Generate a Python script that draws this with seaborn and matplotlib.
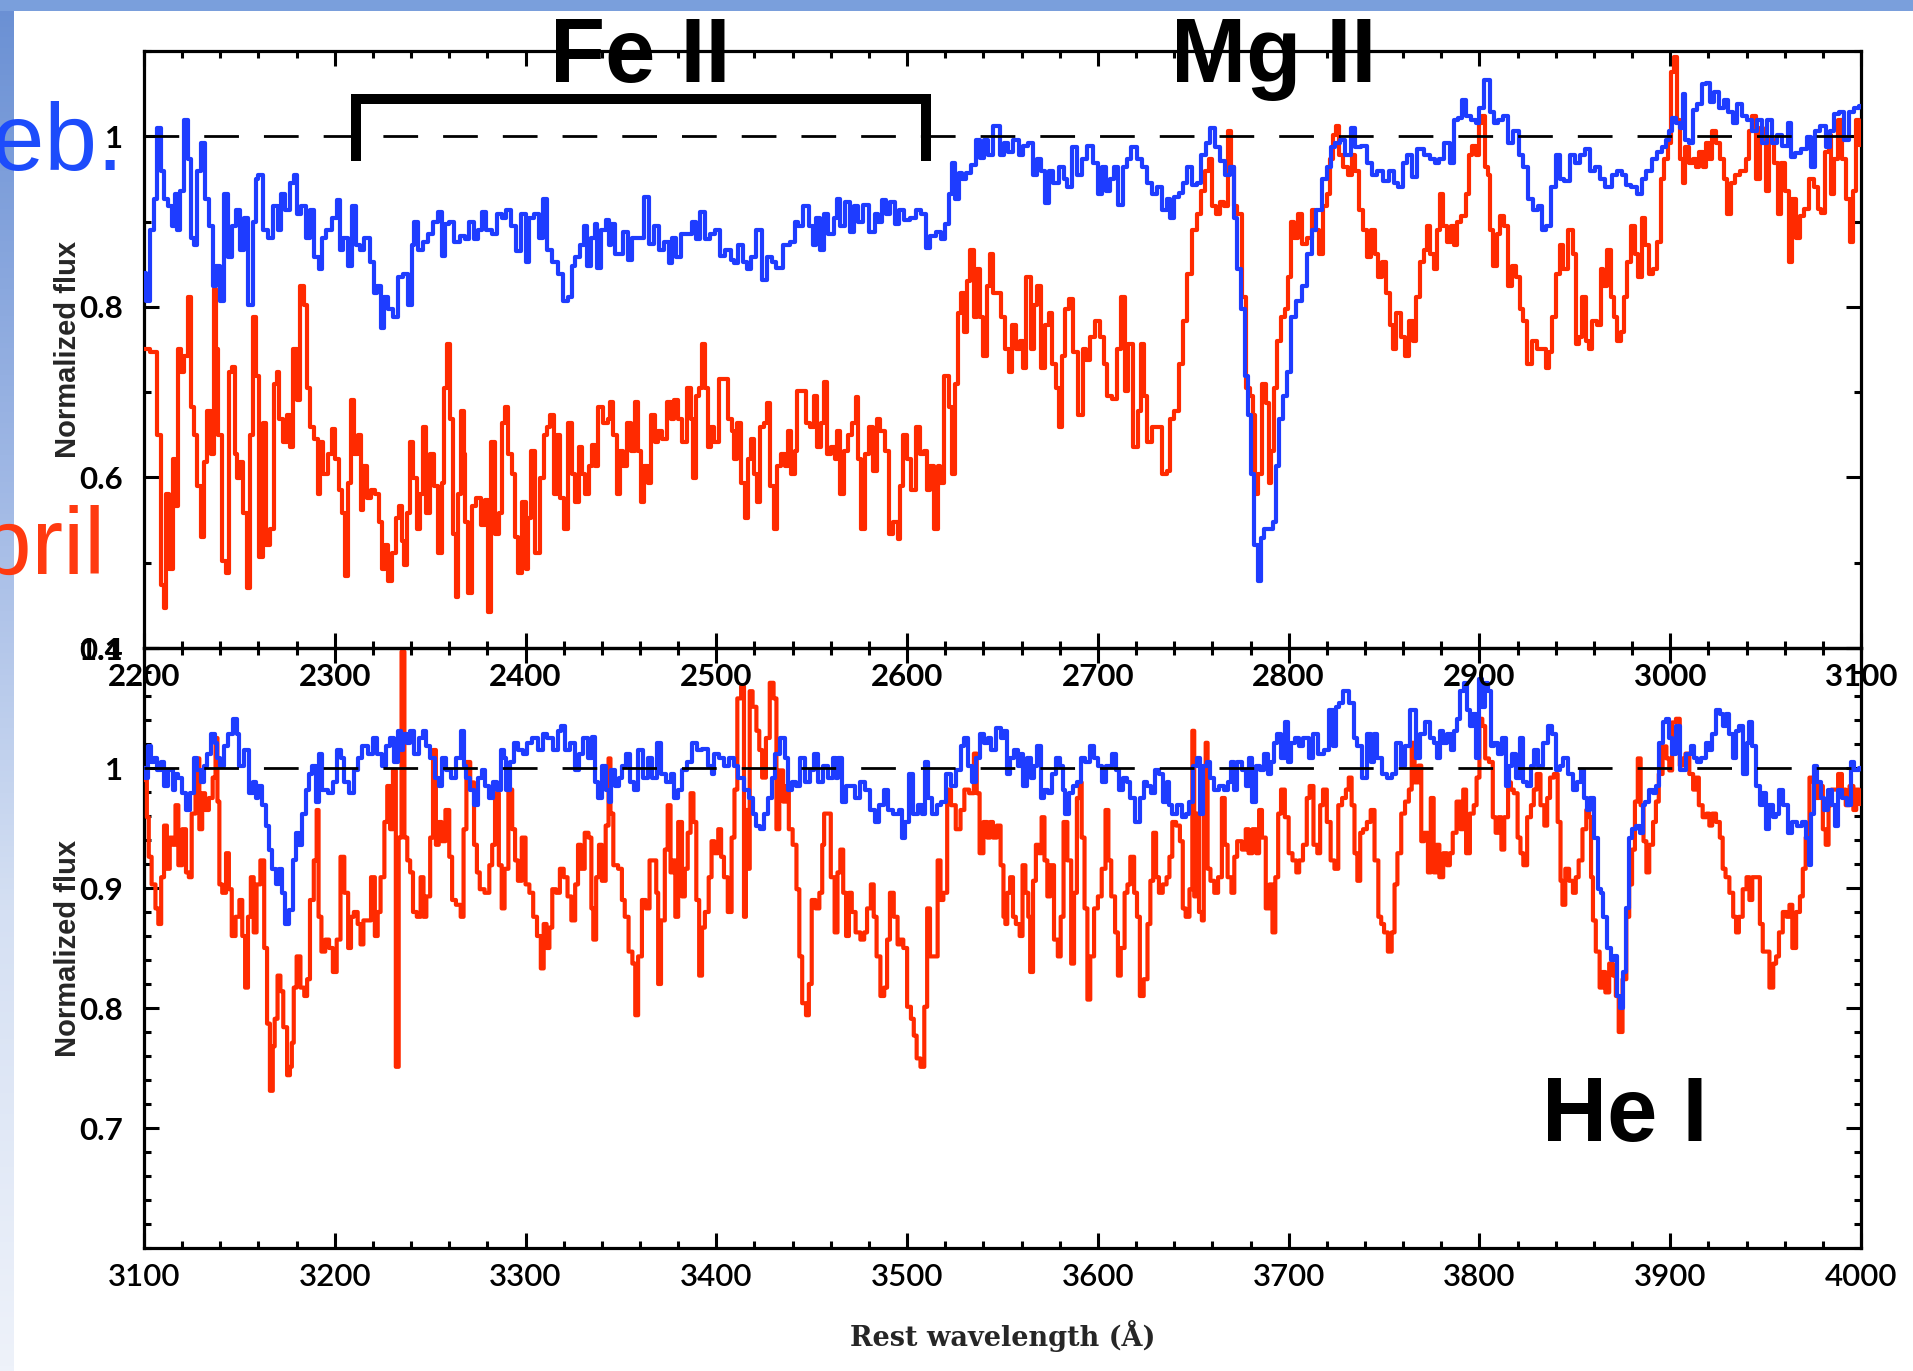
import numpy as np
import pandas as pd
import matplotlib
matplotlib.use("Agg")
import matplotlib.pyplot as plt
import seaborn as sns
from matplotlib.patches import Rectangle
from matplotlib.colors import LinearSegmentedColormap
from matplotlib.ticker import MultipleLocator

# ---------------- data (rest wavelength [A], normalized flux) ----------------
feb_uv = [(2200,0.84),(2202,0.807),(2204,0.890),(2206,0.927),(2208,1.010),(2210,0.959),(2211,0.927),(2214,0.918),(2215,0.895),(2217,0.932),(2218,0.890),(2220,0.936),(2222,1.019),(2224,0.973),(2225,0.881),(2227,0.872),(2229,0.959),(2231,0.992),(2233,0.927),(2235,0.895),(2237,0.825),(2239,0.848),(2241,0.807),(2243,0.932),(2245,0.858),(2247,0.895),(2249,0.913),(2252,0.867),(2253,0.904),(2256,0.802),(2258,0.899),(2259,0.950),(2261,0.955),(2264,0.890),(2266,0.881),(2269,0.918),(2271,0.890),(2273,0.932),(2275,0.913),(2278,0.945),(2279,0.955),(2281,0.909),(2284,0.918),(2286,0.881),(2288,0.913),(2290,0.858),(2293,0.844),(2294,0.881),(2297,0.890),(2300,0.904),(2302,0.925),(2303,0.867),(2306,0.881),(2308,0.848),(2310,0.918),(2312,0.872),(2314,0.867),(2317,0.881),(2320,0.853),(2321,0.816),(2323,0.825),(2325,0.775),(2327,0.812),(2329,0.798),(2332,0.788),(2334,0.835),(2337,0.839),(2340,0.802),(2341,0.872),(2342,0.899),(2345,0.867),(2348,0.876),(2350,0.885),(2353,0.899),(2355,0.911),(2357,0.860),(2359,0.897),(2361,0.899),(2364,0.876),(2367,0.883),(2369,0.879),(2372,0.899),(2374,0.879),(2376,0.890),(2378,0.911),(2381,0.890),(2384,0.885),(2386,0.909),(2389,0.904),(2391,0.913),(2394,0.895),(2396,0.865),(2399,0.909),(2401,0.853),(2403,0.904),(2406,0.909),(2408,0.881),(2410,0.927),(2412,0.867),(2416,0.853),(2418,0.839),(2421,0.807),
          (2424,0.812),(2425,0.848),(2427,0.858),(2430,0.872),(2431,0.895),(2433,0.848),(2436,0.881),(2437,0.897),(2438,0.846),(2441,0.890),(2443,0.902),(2444,0.872),(2446,0.897),(2448,0.862),(2450,0.862),(2452,0.888),(2455,0.855),(2457,0.881),(2461,0.881),(2463,0.929),(2466,0.874),(2469,0.895),(2471,0.867),(2474,0.876),(2476,0.851),(2478,0.881),(2480,0.858),(2483,0.885),(2486,0.885),(2489,0.899),(2490,0.879),(2493,0.911),(2495,0.879),(2498,0.885),(2501,0.890),(2503,0.860),(2506,0.867),(2509,0.855),(2510,0.851),(2513,0.872),(2515,0.853),(2517,0.844),(2519,0.858),(2523,0.890),(2525,0.832),(2528,0.858),(2530,0.853),(2533,0.846),(2537,0.872),(2540,0.876),(2542,0.899),(2544,0.895),(2547,0.918),(2550,0.895),(2551,0.872),(2553,0.904),(2556,0.867),(2557,0.909),(2560,0.885),(2563,0.904),(2564,0.927),(2566,0.895),(2569,0.923),(2571,0.888),(2573,0.918),(2576,0.899),(2578,0.920),(2582,0.888),(2584,0.909),(2586,0.899),(2588,0.925),(2590,0.909),(2592,0.923),(2595,0.897),(2597,0.913),(2600,0.902),(2603,0.904),(2606,0.913),(2609,0.909),(2611,0.869),(2613,0.883),(2617,0.888),(2619,0.879),(2621,0.897),(2623,0.932),(2624,0.969),(2626,0.927),(2628,0.957),(2630,0.950),(2632,0.957),(2635,0.966),(2637,0.996),(2639,0.974),(2642,0.996),(2643,0.978),(2647,1.012),
          (2650,0.978),(2652,0.992),(2654,0.982),(2657,0.996),(2660,0.978),(2662,0.989),(2665,0.992),(2667,0.955),(2669,0.973),(2671,0.959),(2674,0.922),(2675,0.959),(2678,0.945),(2681,0.964),(2683,0.950),(2685,0.941),(2688,0.987),(2690,0.955),(2693,0.973),(2696,0.989),(2699,0.969),(2701,0.932),(2703,0.964),(2705,0.936),(2708,0.950),(2709,0.964),(2712,0.920),(2714,0.964),(2716,0.973),(2719,0.987),(2722,0.973),(2724,0.964),(2727,0.945),(2730,0.932),(2732,0.941),(2735,0.913),(2737,0.927),(2739,0.904),(2741,0.929),(2744,0.934),(2745,0.945),(2748,0.964),(2751,0.943),(2753,0.945),(2755,0.978),(2758,0.992),(2760,1.010),(2763,0.987),(2765,0.971),(2768,0.955),(2771,0.964),(2772,0.904),(2774,0.844),(2776,0.798),(2778,0.719),(2779,0.673),(2781,0.604),(2783,0.521),(2785,0.479),(2786,0.529),(2788,0.539),(2791,0.539),(2793,0.548),(2794,0.613),(2796,0.668),(2798,0.696),(2800,0.724),(2802,0.788),(2806,0.807),(2808,0.825),(2811,0.862),(2813,0.890),(2816,0.913),(2819,0.950),(2821,0.964),(2823,0.987),(2826,0.992),(2828,0.996),(2831,0.978),(2834,1.010),(2836,0.987),(2840,0.989),(2842,0.969),(2845,0.955),(2848,0.959),(2851,0.948),(2854,0.959),(2856,0.945),(2859,0.941),(2861,0.969),(2863,0.978),(2866,0.952),(2869,0.985),(2873,0.978),
          (2875,0.973),(2878,0.969),(2880,0.973),(2883,0.992),(2886,0.969),(2887,1.019),(2890,1.022),(2892,1.042),(2894,1.024),(2897,1.019),(2899,1.015),(2901,1.033),(2904,1.066),(2907,1.029),(2908,1.015),(2911,1.019),(2914,1.024),(2916,0.992),(2919,1.006),(2922,0.978),(2924,0.964),(2927,0.927),(2929,0.913),(2932,0.918),(2934,0.890),(2936,0.895),(2939,0.941),(2941,0.978),(2943,0.950),(2946,0.948),(2949,0.978),(2951,0.969),(2954,0.978),(2957,0.985),(2959,0.959),(2962,0.964),(2964,0.950),(2968,0.941),(2971,0.955),(2973,0.959),(2976,0.955),(2978,0.943),(2981,0.941),(2984,0.932),(2986,0.950),(2989,0.959),(2992,0.973),(2994,0.982),(2997,0.987),(2999,0.996),(3000,1.006),(3002,1.022),(3004,1.015),(3006,1.010),(3007,1.049),(3009,0.996),(3011,0.992),(3013,1.031),(3015,1.038),(3018,1.061),(3020,1.063),(3022,1.040),(3024,1.052),(3027,1.033),(3029,1.042),(3032,1.029),(3034,1.015),(3036,1.038),(3039,1.024),(3042,1.019),(3044,1.006),(3047,1.019),(3049,0.992),(3052,1.019),(3055,0.992),(3057,1.001),(3060,0.989),(3063,1.015),(3064,0.976),(3067,0.980),(3070,0.985),(3073,0.999),(3075,0.964),(3077,1.006),(3080,1.012),(3083,0.987),(3085,1.006),(3087,1.026),(3090,1.029),(3092,0.996),(3095,1.029),(3098,1.033),(3100,1.035)]

apr_uv = [(2200,0.751),(2206,0.747),(2208,0.650),(2210,0.474),(2211,0.447),(2212,0.581),(2214,0.493),(2216,0.622),(2217,0.567),(2219,0.751),(2220,0.724),(2222,0.742),(2224,0.812),(2225,0.682),(2227,0.650),(2229,0.590),(2231,0.530),(2232,0.618),(2234,0.678),(2236,0.627),(2237,0.821),(2238,0.751),(2240,0.650),(2242,0.502),(2244,0.488),(2245,0.724),(2247,0.729),(2248,0.627),(2250,0.599),(2251,0.618),(2253,0.558),(2255,0.470),(2256,0.650),(2258,0.788),(2259,0.719),(2262,0.507),(2263,0.664),(2265,0.521),(2267,0.539),(2269,0.710),(2270,0.724),(2272,0.668),(2274,0.641),(2276,0.673),(2277,0.636),(2279,0.751),(2281,0.691),(2283,0.825),(2285,0.802),(2286,0.705),(2288,0.659),(2290,0.645),(2292,0.581),(2293,0.641),(2295,0.604),(2298,0.627),(2299,0.657),(2301,0.622),(2303,0.585),(2305,0.558),(2306,0.484),(2308,0.594),(2309,0.691),(2311,0.627),(2313,0.650),(2314,0.562),(2316,0.613),(2318,0.576),(2320,0.585),(2322,0.581),(2324,0.548),(2326,0.493),(2327,0.521),(2329,0.479),(2331,0.511),(2333,0.553),(2334,0.567),(2336,0.525),(2337,0.497),(2339,0.558),(2340,0.641),(2342,0.599),(2344,0.539),(2345,0.581),(2347,0.659),(2349,0.558),(2351,0.627),(2353,0.590),(2355,0.511),(2357,0.594),(2358,0.705),(2360,0.756),(2361,0.668),(2363,0.534),(2364,0.460),(2365,0.581),(2367,0.678),(2368,0.627),(2369,0.548),(2371,0.465),(2373,0.567),(2375,0.576),(2378,0.544),(2380,0.574),(2381,0.442),(2383,0.641),(2385,0.534),(2387,0.558),(2388,0.664),(2390,0.682),(2392,0.627),(2394,0.604),(2395,0.530),(2397,0.488),(2399,0.571),(2401,0.493),(2402,0.553),(2404,0.631),(2406,0.511),(2409,0.599),(2410,0.650),(2412,0.659),(2414,0.673),(2416,0.581),(2417,0.650),(2419,0.576),(2421,0.539),
          (2424,0.664),(2425,0.604),(2427,0.571),(2429,0.636),(2430,0.604),(2432,0.581),(2434,0.613),(2436,0.638),(2437,0.613),(2439,0.682),(2442,0.664),(2444,0.668),(2445,0.689),(2447,0.650),(2449,0.581),(2450,0.631),(2452,0.613),(2454,0.664),(2457,0.631),(2458,0.689),(2460,0.631),(2461,0.571),(2463,0.613),(2465,0.594),(2467,0.673),(2469,0.641),(2470,0.654),(2473,0.645),(2475,0.689),(2477,0.668),(2479,0.691),(2481,0.668),(2483,0.641),(2486,0.705),(2487,0.668),(2489,0.599),(2490,0.696),(2492,0.705),(2493,0.756),(2495,0.705),(2496,0.636),(2498,0.659),(2500,0.641),(2503,0.715),(2505,0.715),(2507,0.668),(2509,0.654),(2510,0.622),(2512,0.664),(2514,0.594),(2516,0.553),(2517,0.622),(2519,0.645),(2521,0.604),(2522,0.571),(2524,0.659),(2526,0.664),(2527,0.687),(2529,0.590),(2531,0.539),(2533,0.613),(2535,0.627),(2537,0.613),(2538,0.654),(2540,0.604),(2542,0.631),(2543,0.701),(2546,0.701),(2548,0.664),(2550,0.659),(2552,0.696),(2554,0.636),(2556,0.664),(2557,0.712),(2559,0.627),(2561,0.636),(2563,0.622),(2564,0.654),(2566,0.581),(2568,0.631),(2570,0.650),(2572,0.664),(2574,0.694),(2575,0.622),(2577,0.539),(2579,0.627),(2581,0.659),(2583,0.608),(2585,0.668),(2587,0.654),(2590,0.631),(2591,0.534),(2594,0.548),(2596,0.528),(2597,0.590),(2599,0.650),(2601,0.622),(2603,0.585),(2606,0.659),(2608,0.627),(2610,0.631),(2611,0.585),(2613,0.613),(2615,0.539),(2617,0.613),(2618,0.594),(2621,0.719),(2623,0.682),(2624,0.604),(2626,0.710),(2627,0.793),(2629,0.816),(2631,0.770),(2632,0.830),(2634,0.867),(2636,0.788),(2637,0.844),(2639,0.788),(2641,0.742),(2643,0.825),(2644,0.862),(2646,0.816),
          (2648,0.816),(2650,0.788),(2653,0.751),(2654,0.724),(2656,0.779),(2658,0.751),(2660,0.760),(2661,0.728),(2664,0.835),(2666,0.751),(2667,0.802),(2669,0.825),(2671,0.728),(2674,0.779),(2675,0.793),(2677,0.733),(2679,0.705),(2680,0.659),(2682,0.742),(2684,0.798),(2686,0.809),(2688,0.747),(2691,0.673),(2693,0.751),(2695,0.738),(2697,0.765),(2700,0.784),(2702,0.765),(2704,0.733),(2706,0.696),(2709,0.692),(2711,0.751),(2713,0.812),(2715,0.701),(2717,0.756),(2720,0.636),(2722,0.678),(2723,0.756),(2725,0.696),(2727,0.641),(2730,0.659),(2732,0.659),(2735,0.604),(2737,0.608),(2739,0.668),(2741,0.678),(2744,0.733),(2745,0.784),(2748,0.839),(2751,0.890),(2753,0.909),(2755,0.936),(2757,0.959),(2759,0.973),(2761,0.918),(2763,0.909),(2765,0.923),(2767,0.918),(2769,1.006),(2771,0.964),(2772,0.918),(2774,0.909),(2777,0.812),(2778,0.705),(2781,0.696),(2782,0.673),(2783,0.581),(2785,0.604),(2787,0.710),(2789,0.687),(2790,0.594),(2792,0.631),(2793,0.705),(2795,0.760),(2797,0.788),(2799,0.798),(2800,0.835),(2802,0.899),(2804,0.881),(2806,0.909),(2808,0.874),(2811,0.881),(2813,0.913),(2815,0.890),(2817,0.862),(2819,0.918),(2821,0.932),(2822,0.973),(2824,1.001),(2826,1.012),(2827,0.978),(2830,0.964),(2832,0.955),(2834,0.978),(2836,0.959),(2838,0.913),(2840,0.890),(2842,0.858),(2844,0.890),(2846,0.862),(2848,0.835),(2850,0.853),(2852,0.816),(2854,0.779),(2855,0.751),(2858,0.793),(2860,0.765),(2862,0.742),(2864,0.784),(2866,0.760),(2868,0.812),(2870,0.853),(2872,0.867),
          (2873,0.895),(2875,0.862),(2877,0.844),(2879,0.890),(2880,0.932),(2882,0.895),(2884,0.876),(2886,0.895),(2887,0.872),(2889,0.899),(2892,0.906),(2894,0.932),(2895,0.978),(2897,0.989),(2899,0.978),(2901,1.015),(2902,1.024),(2904,0.964),(2905,0.955),(2906,0.890),(2908,0.848),(2910,0.885),(2912,0.906),(2914,0.895),(2916,0.825),(2918,0.848),(2920,0.835),(2922,0.798),(2924,0.784),(2926,0.733),(2929,0.760),(2931,0.751),(2934,0.751),(2936,0.728),(2937,0.747),(2939,0.788),(2941,0.839),(2943,0.872),(2945,0.844),(2948,0.890),(2950,0.862),(2951,0.756),(2953,0.765),(2955,0.812),(2957,0.760),(2958,0.751),(2960,0.784),(2963,0.779),(2964,0.844),(2966,0.825),(2968,0.867),(2970,0.812),(2971,0.788),(2973,0.760),(2975,0.770),(2977,0.812),(2978,0.853),(2981,0.895),(2982,0.862),(2984,0.835),(2986,0.904),(2988,0.872),(2990,0.839),(2992,0.844),(2994,0.876),(2996,0.950),(2998,0.973),(3000,0.992),(3001,1.075),(3003,1.093),(3004,1.019),(3006,0.973),(3007,0.945),(3009,0.987),(3011,0.969),(3013,0.973),(3014,0.964),(3016,0.982),(3018,0.964),(3020,0.992),(3021,0.973),(3023,1.006),(3025,0.992),(3027,0.973),(3029,0.950),(3031,0.909),(3033,0.945),(3035,0.955),(3038,0.959),(3041,0.973),(3042,1.006),(3044,1.024),(3046,0.950),(3048,1.010),(3049,0.996),(3051,0.936),(3053,0.996),(3056,0.969),(3057,0.909),(3059,0.969),(3061,0.936),(3063,0.853),(3065,0.927),(3067,0.881),(3069,0.906),(3071,0.915),(3074,0.950),(3077,0.941),(3078,0.915),(3080,0.910),(3082,0.982),(3084,1.001),(3085,0.932),(3087,0.973),(3089,1.019),(3091,0.973),(3093,0.927),(3095,0.876),(3097,0.936),(3098,1.019),(3100,0.990)]

feb_opt = [(3100,1.000),(3101,0.992),(3103,1.018),(3104,1.005),(3106,1.008),(3108,0.998),(3110,1.005),(3111,0.985),(3114,0.998),(3116,0.982),(3117,0.995),(3119,0.992),(3121,0.979),(3123,0.965),(3125,0.979),(3127,1.008),(3129,0.998),(3131,0.988),(3132,1.002),(3134,1.012),(3136,1.028),(3138,1.021),(3139,1.008),(3141,1.002),(3143,1.018),(3145,1.028),(3148,1.041),(3149,1.028),(3151,1.002),(3154,1.015),(3156,0.979),(3158,0.988),(3159,0.975),(3161,0.985),(3163,0.969),(3165,0.952),(3166,0.932),(3168,0.916),(3170,0.903),(3172,0.916),(3173,0.896),(3175,0.870),(3177,0.882),(3179,0.923),(3180,0.946),(3182,0.936),(3184,0.962),(3186,0.982),(3187,0.995),(3189,1.002),(3191,0.972),(3192,1.012),(3195,0.982),(3198,0.979),(3200,0.988),(3202,1.015),(3204,1.008),(3206,0.988),(3209,0.979),(3211,0.998),(3213,1.008),(3216,1.018),(3219,1.012),(3221,1.025),(3223,1.012),(3226,1.002),(3228,1.018),(3230,1.025),(3232,1.005),(3234,1.031),(3235,1.015),(3237,1.028),(3239,1.021),(3240,1.031),(3243,1.012),(3245,1.025),(3247,1.031),(3249,1.018),(3251,1.008),(3254,0.992),(3255,0.985),(3257,1.008),(3260,0.998),(3262,0.992),(3265,1.008),(3267,1.031),(3268,1.002),(3270,0.992),(3272,0.982),(3274,0.969),(3276,0.992),(3278,0.998),(3280,0.985),(3282,0.975),(3284,0.988),(3286,0.982),(3288,1.015),(3289,1.008),(3291,0.982),(3293,1.005),(3295,1.021),(3297,1.015),(3300,1.012),(3302,1.021),(3305,1.025),(3308,1.015),(3310,1.028),(3313,1.025),(3316,1.015),(3318,1.031),(3319,1.035),(3322,1.015),
           (3325,1.021),(3327,0.998),(3329,1.012),(3331,1.025),(3334,1.008),(3336,1.026),(3337,0.988),(3339,0.975),(3341,1.002),(3343,0.982),(3344,0.972),(3346,0.998),(3348,0.985),(3350,0.992),(3351,1.002),(3354,1.012),(3356,0.988),(3358,0.982),(3360,1.015),(3363,0.992),(3365,1.008),(3368,0.992),(3370,1.021),(3372,0.995),(3375,0.988),(3377,0.995),(3379,0.975),(3381,0.982),(3383,0.998),(3386,1.005),(3389,1.021),(3391,1.015),(3394,1.016),(3397,1.002),(3398,0.995),(3400,1.012),(3403,1.008),(3405,1.002),(3408,1.008),(3410,1.002),(3413,0.992),(3416,0.982),(3418,0.975),(3420,0.962),(3422,0.952),(3424,0.949),(3426,0.962),(3428,0.975),(3430,0.992),(3432,1.012),(3435,1.025),(3437,1.008),(3438,0.982),(3441,0.988),(3443,0.985),(3445,1.008),(3448,0.988),(3450,0.998),(3452,1.012),(3455,0.988),(3457,1.002),(3460,0.992),(3462,1.008),(3463,0.992),(3465,1.008),(3467,0.972),(3469,0.985),(3471,0.985),(3474,0.975),(3477,0.988),(3479,0.982),(3482,0.965),(3484,0.955),(3487,0.969),(3489,0.982),(3491,0.965),(3494,0.962),(3497,0.965),(3498,0.942),(3500,0.955),(3502,0.995),(3504,0.962),(3507,0.969),(3509,0.962),(3510,1.005),(3512,0.975),(3514,0.962),(3517,0.969),(3519,0.972),(3522,0.995),(3524,0.985),(3527,0.998),(3529,1.018),(3531,1.025),(3533,1.002),(3535,0.988),(3537,1.008),(3539,1.028),(3542,1.021),(3543,1.025),(3545,1.015),(3548,1.033),(3550,1.025),
           (3552,1.031),(3553,0.995),(3555,1.008),(3557,1.015),(3559,1.002),(3560,1.012),(3562,0.985),(3564,1.008),(3566,0.992),(3567,1.002),(3569,1.018),(3571,0.975),(3573,0.982),(3575,0.979),(3577,0.995),(3579,1.008),(3581,1.002),(3582,0.982),(3584,0.962),(3586,0.979),(3588,0.985),(3590,0.988),(3592,1.008),(3595,1.005),(3597,1.018),(3599,1.008),(3601,1.002),(3603,0.988),(3606,1.002),(3609,1.012),(3610,0.998),(3612,0.982),(3614,0.992),(3616,0.988),(3618,0.975),(3621,0.955),(3623,0.975),(3625,0.988),(3627,0.985),(3629,0.979),(3631,0.998),(3633,0.995),(3635,0.972),(3637,0.988),(3638,0.969),(3640,0.962),(3643,0.969),(3645,0.959),(3647,0.962),(3649,0.972),(3651,1.002),(3653,1.008),(3654,0.962),(3656,1.002),(3658,1.005),(3660,0.992),(3662,0.982),(3665,0.985),(3667,0.982),(3669,0.988),(3671,1.005),(3672,0.982),(3674,1.005),(3677,0.998),(3678,0.985),(3680,1.008),(3682,0.972),(3684,1.002),(3686,0.998),(3688,1.012),(3690,0.995),(3692,1.005),(3693,1.021),(3695,1.028),(3697,1.008),(3699,1.038),(3700,1.005),(3702,1.021),(3705,1.025),(3706,1.018),(3709,1.025),(3712,1.008),(3714,1.028),(3717,1.012),(3720,1.015),(3722,1.048),(3724,1.018),(3726,1.051),(3727,1.054),(3730,1.064),(3733,1.054),(3735,1.025),(3737,1.018),(3740,0.992),(3742,1.028),(3744,1.005),(3745,1.028),(3748,1.008),(3750,0.995),(3753,0.992),(3755,0.995),(3758,1.021),(3760,1.002),(3762,1.018),(3765,1.048),(3768,1.008),(3770,1.028),(3773,1.038),
           (3775,1.025),(3777,1.021),(3779,1.008),(3780,1.031),(3782,1.021),(3784,1.028),(3786,1.015),(3787,1.031),(3789,1.041),(3791,1.064),(3793,1.071),(3794,1.048),(3796,1.035),(3797,1.045),(3799,1.008),(3801,1.074),(3802,1.051),(3804,1.071),(3805,1.064),(3807,1.018),(3808,1.021),(3811,1.012),(3813,1.025),(3815,0.985),(3816,1.002),(3818,1.012),(3820,0.992),(3822,1.025),(3824,0.988),(3826,0.985),(3828,1.002),(3829,1.015),(3832,1.002),(3835,1.021),(3837,1.035),(3839,1.028),(3841,0.998),(3843,1.002),(3845,1.008),(3848,0.995),(3850,0.982),(3852,0.988),(3854,0.998),(3856,0.975),(3857,0.965),(3859,0.975),(3861,0.942),(3863,0.899),(3864,0.896),(3866,0.876),(3868,0.850),(3870,0.840),(3871,0.843),(3873,0.810),(3874,0.800),(3876,0.830),(3878,0.883),(3879,0.942),(3881,0.949),(3883,0.952),(3885,0.946),(3886,0.969),(3888,0.972),(3890,0.982),(3892,0.979),(3893,0.985),(3895,1.021),(3897,1.038),(3899,1.041),(3900,1.025),(3902,1.012),(3904,1.035),(3906,0.998),(3907,0.998),(3910,1.012),(3912,1.018),(3913,1.008),(3915,1.005),(3917,1.008),(3920,1.021),(3921,1.015),(3923,1.028),(3925,1.048),(3927,1.045),(3928,1.035),(3930,1.045),(3932,1.028),(3934,1.008),(3935,1.031),(3937,1.035),(3939,0.995),(3941,1.021),(3942,1.038),(3944,1.018),(3946,0.985),(3948,0.969),(3949,0.979),(3951,0.949),(3953,0.969),(3955,0.959),(3956,0.962),(3958,0.982),(3960,0.969),(3963,0.946),(3965,0.955),(3968,0.952),(3970,0.955),(3972,0.942),(3973,0.919),(3975,0.962),(3976,1.002),(3978,0.988),(3980,0.975),(3981,0.965),(3984,0.982),(3986,0.969),(3987,0.952),(3989,0.982),(3991,0.975),(3994,0.969),(3995,1.005),(3998,0.998),(4000,1.000)]

apr_opt = [(3100,0.990),(3101,0.992),(3102,0.959),(3103,0.926),(3105,0.903),(3107,0.883),(3108,0.870),(3110,0.909),(3111,0.952),(3113,0.916),(3114,0.942),(3116,0.936),(3117,0.969),(3119,0.919),(3121,0.949),(3123,0.913),(3124,0.909),(3126,0.962),(3128,1.008),(3130,0.949),(3131,0.979),(3133,0.965),(3135,0.975),(3137,0.992),(3138,1.025),(3139,0.972),(3140,0.903),(3142,0.896),(3144,0.929),(3145,0.899),(3147,0.860),(3149,0.876),(3151,0.890),(3152,0.860),(3154,0.817),(3155,0.876),(3157,0.909),(3158,0.863),(3160,0.903),(3162,0.923),(3164,0.850),(3165,0.787),(3167,0.731),(3168,0.768),(3169,0.791),(3171,0.827),(3172,0.814),(3174,0.784),(3176,0.744),(3177,0.751),(3178,0.771),(3179,0.817),(3181,0.843),(3183,0.817),(3185,0.810),(3186,0.824),(3188,0.890),(3190,0.923),(3191,0.965),(3192,0.876),(3194,0.847),(3196,0.857),(3198,0.850),(3200,0.830),(3202,0.857),(3204,0.926),(3206,0.896),(3208,0.850),(3209,0.876),(3211,0.880),(3213,0.870),(3214,0.853),(3216,0.873),(3218,0.873),(3220,0.909),(3222,0.860),(3223,0.880),(3225,0.909),(3227,0.955),(3228,0.985),(3230,0.949),(3231,0.998),(3233,0.751),(3234,0.942),(3236,1.097),(3237,0.942),(3239,0.923),(3240,0.913),(3242,0.880),(3244,0.876),(3246,0.909),(3247,0.876),(3249,0.893),(3251,0.942),(3252,1.015),(3254,0.936),(3255,0.955),(3257,0.939),(3259,0.965),(3261,0.926),(3262,0.890),(3265,0.886),(3267,0.876),(3268,0.949),(3270,1.005),(3272,0.988),(3274,0.936),(3275,0.913),(3277,0.899),(3280,0.896),(3282,0.919),(3283,0.936),(3285,0.979),(3287,0.919),(3288,0.883),(3290,0.916),(3292,0.982),(3294,0.949),(3295,0.923),(3297,0.906),(3299,0.942),(3301,0.903),(3303,0.896),(3305,0.876),(3307,0.860),(3309,0.833),(3310,0.870),(3312,0.850),(3313,0.867),(3315,0.899),(3317,0.896),(3319,0.916),(3321,0.909),(3323,0.893),
           (3325,0.873),(3327,0.903),(3328,0.936),(3330,0.916),(3332,0.946),(3334,0.942),(3335,0.883),(3336,0.857),(3338,0.909),(3339,0.936),(3341,0.906),(3343,0.952),(3344,1.008),(3345,0.962),(3347,0.919),(3350,0.916),(3351,0.890),(3353,0.876),(3355,0.847),(3357,0.837),(3358,0.794),(3360,0.843),(3362,0.890),(3364,0.883),(3366,0.923),(3368,0.923),(3369,0.896),(3370,0.820),(3372,0.873),(3374,0.932),(3375,0.969),(3377,0.913),(3378,0.923),(3379,0.876),(3381,0.955),(3383,0.893),(3384,0.916),(3386,0.946),(3387,0.979),(3389,0.955),(3390,0.890),(3392,0.827),(3393,0.867),(3395,0.880),(3397,0.909),(3398,0.939),(3400,0.929),(3402,0.949),(3403,0.926),(3405,0.909),(3407,0.880),(3409,0.942),(3410,0.982),(3412,1.058),(3414,1.068),(3415,0.876),(3416,0.965),(3417,0.916),(3418,1.064),(3420,1.051),(3422,1.031),(3423,1.015),(3425,0.992),(3427,1.025),(3429,1.071),(3431,1.058),(3432,0.949),(3434,0.998),(3436,0.972),(3437,0.985),(3439,0.949),(3441,0.936),(3443,0.899),(3444,0.843),(3446,0.804),(3448,0.794),(3449,0.820),(3451,0.890),(3453,0.883),(3455,0.896),(3456,0.936),(3457,0.962),(3459,0.962),(3461,0.909),(3463,0.863),(3464,0.913),(3466,0.932),(3467,0.896),(3469,0.860),(3470,0.896),(3472,0.880),(3474,0.863),(3477,0.857),(3478,0.863),(3480,0.883),(3482,0.903),(3483,0.876),(3485,0.843),(3487,0.810),(3489,0.817),(3490,0.857),(3492,0.896),(3494,0.876),(3496,0.853),(3497,0.857),(3499,0.850),(3501,0.801),(3503,0.791),(3504,0.777),(3506,0.758),(3508,0.751),(3510,0.801),(3511,0.883),(3513,0.843),(3515,0.843),(3517,0.923),(3518,0.890),(3520,0.896),(3522,0.982),(3524,0.969),(3527,0.949),(3529,0.965),(3531,0.982),(3534,0.979),(3536,1.012),(3537,0.979),(3539,0.929),(3541,0.955),(3543,0.942),(3544,0.955),(3546,0.942),(3548,0.952),(3550,0.919),
           (3551,0.876),(3552,0.870),(3553,0.896),(3555,0.909),(3556,0.876),(3558,0.870),(3560,0.860),(3561,0.919),(3563,0.896),(3564,0.876),(3565,0.830),(3567,0.906),(3568,0.936),(3570,0.929),(3571,0.959),(3573,0.923),(3574,0.893),(3576,0.919),(3578,0.857),(3580,0.843),(3581,0.876),(3583,0.955),(3585,0.923),(3587,0.837),(3588,0.896),(3590,0.975),(3591,0.988),(3592,0.942),(3594,0.883),(3595,0.807),(3597,0.843),(3599,0.883),(3601,0.893),(3603,0.916),(3605,0.965),(3606,0.923),(3608,0.893),(3610,0.863),(3611,0.827),(3613,0.850),(3615,0.896),(3616,0.903),(3618,0.926),(3620,0.896),(3621,0.876),(3623,0.810),(3625,0.824),(3627,0.870),(3628,0.906),(3630,0.946),(3631,0.909),(3633,0.896),(3635,0.903),(3637,0.909),(3638,0.926),(3640,0.955),(3642,0.952),(3644,0.939),(3645,0.883),(3647,0.876),(3649,0.899),(3650,1.031),(3651,0.893),(3652,0.962),(3654,0.880),(3655,0.873),(3656,0.975),(3657,1.021),(3658,0.916),(3660,0.906),(3662,0.896),(3664,0.909),(3666,0.975),(3667,0.936),(3669,0.909),(3671,0.896),(3672,0.926),(3674,0.939),(3677,0.932),(3678,0.949),(3680,0.929),(3682,0.949),(3684,0.929),(3685,0.965),(3687,0.942),(3689,0.883),(3691,0.903),(3692,0.863),(3694,0.909),(3695,0.962),(3697,0.982),(3699,0.959),(3701,0.929),(3703,0.923),(3705,0.913),(3706,0.923),(3709,0.936),(3710,0.975),(3712,0.985),(3714,0.936),(3716,0.929),(3717,0.969),(3719,0.982),(3721,0.955),(3723,0.923),(3725,0.916),(3727,0.969),(3729,0.975),(3731,0.982),(3732,0.992),(3734,0.969),(3735,0.929),(3737,0.906),(3738,0.946),(3740,0.949),(3742,0.955),(3744,0.965),(3746,0.923),(3748,0.876),(3749,0.870),(3751,0.863),(3753,0.847),(3755,0.863),(3756,0.903),(3758,0.929),(3760,0.962),(3762,0.972),(3764,0.982),(3765,1.021),(3767,0.988),(3769,1.002),(3770,0.939),(3772,0.946),(3774,0.913),
           (3775,0.975),(3777,0.913),(3778,0.936),(3780,0.909),(3782,0.929),(3784,0.919),(3785,0.929),(3787,0.946),(3789,0.972),(3791,0.949),(3792,0.982),(3794,0.929),(3796,0.962),(3798,0.969),(3799,0.992),(3801,1.041),(3802,1.035),(3804,1.008),(3806,1.005),(3808,0.959),(3809,0.946),(3811,0.959),(3812,0.932),(3814,0.959),(3816,0.988),(3817,0.982),(3819,0.979),(3821,0.942),(3822,0.929),(3824,0.919),(3826,0.959),(3828,0.969),(3829,0.982),(3831,0.995),(3833,0.969),(3835,0.952),(3836,0.975),(3838,0.992),(3840,0.995),(3842,0.955),(3843,0.906),(3844,0.886),(3846,0.916),(3848,0.906),(3850,0.896),(3851,0.909),(3853,0.923),(3855,0.949),(3857,0.965),(3858,0.959),(3859,0.909),(3860,0.873),(3862,0.847),(3864,0.817),(3865,0.830),(3867,0.813),(3869,0.837),(3871,0.827),(3872,0.810),(3874,0.780),(3876,0.824),(3878,0.876),(3879,0.903),(3881,0.932),(3882,0.972),(3884,1.008),(3885,0.969),(3887,0.939),(3888,0.913),(3890,0.936),(3892,0.955),(3893,0.972),(3895,0.995),(3897,1.018),(3899,1.008),(3900,0.998),(3902,1.038),(3904,1.041),(3906,1.002),(3907,1.008),(3909,1.012),(3911,0.995),(3913,0.982),(3914,0.992),(3916,0.969),(3918,0.959),(3920,0.962),(3921,0.952),(3923,0.962),(3925,0.955),(3927,0.942),(3928,0.916),(3930,0.909),(3932,0.896),(3934,0.876),(3935,0.863),(3937,0.876),(3939,0.899),(3941,0.909),(3942,0.890),(3944,0.909),(3946,0.909),(3948,0.870),(3949,0.847),(3951,0.847),(3953,0.817),(3955,0.837),(3956,0.843),(3958,0.863),(3960,0.880),(3962,0.876),(3963,0.886),(3965,0.850),(3967,0.880),(3969,0.893),(3970,0.916),(3972,0.942),(3974,0.992),(3976,0.988),(3977,0.975),(3979,0.985),(3981,0.949),(3982,0.936),(3984,0.969),(3985,0.982),(3987,0.982),(3989,0.995),(3991,0.982),(3993,0.969),(3995,0.985),(3997,0.965),(3998,0.982),(4000,0.970)]

top_xlim = (2200, 3100)
top_ylim = (0.4, 1.1)
bot_xlim = (3100, 4000)
bot_ylim = (0.6, 1.1)
top_yticks = [0.4, 0.6, 0.8, 1.0]
top_ylabels = ['0.4', '0.6', '0.8', '1']
bot_yticks = [0.7, 0.8, 0.9, 1.0, 1.1]
bot_ylabels = ['0.7', '0.8', '0.9', '1', '1.1']
fe_bracket = ([2311, 2311, 2610, 2610], [0.971, 1.044, 1.044, 0.971])
labels = [("Fe II", 2460, 1.0637, 'top'), ("Mg II", 2792, 1.0637, 'top'), ("He I", 3876, 0.689, 'bot')]

BLUE = '#1e3cff'
RED = '#ff2a00'

# ---------------- figure ----------------
sns.set_theme(style="white")
plt.rcParams['font.family'] = ['Lato', 'DejaVu Sans']
plt.rcParams['lines.scale_dashes'] = False
plt.rcParams['axes.edgecolor'] = 'black'

W, H = 1913, 1371
fig = plt.figure(figsize=(W / 100, H / 100), dpi=100)
fig.patch.set_facecolor('white')

# slide background: blue gradient border (left) and top band
bg = fig.add_axes([0, 0, 1, 1], zorder=-10)
grad = np.linspace(0, 1, 256).reshape(-1, 1)
cmap = LinearSegmentedColormap.from_list('g', ['#6a90d4', '#9db6e4', '#d5e0f3', '#eef2fa'])
bg.imshow(grad, cmap=cmap, extent=[0, 14, H, 0], aspect='auto')
bg.add_patch(Rectangle((0, 0), W, 11, color='#7a9fdc', lw=0))
bg.set_xlim(0, W)
bg.set_ylim(H, 0)
bg.axis('off')

ax1 = fig.add_axes([144 / W, 1 - 648 / H, 1717 / W, 597 / H], zorder=2)
ax2 = fig.add_axes([144 / W, 1 - 1248 / H, 1717 / W, 600 / H], zorder=1)
for ax in (ax1, ax2):
    ax.patch.set_alpha(0)


def draw(ax, pairs, color, z):
    df = pd.DataFrame(pairs, columns=['wl', 'flux'])
    sns.lineplot(data=df, x='wl', y='flux', ax=ax, color=color, lw=3.0,
                 estimator=None, sort=False, drawstyle='steps-mid', zorder=z, legend=False)


draw(ax1, apr_uv, RED, 3)
draw(ax1, feb_uv, BLUE, 4)
draw(ax2, apr_opt, RED, 3)
draw(ax2, feb_opt, BLUE, 4)

for ax in (ax1, ax2):
    ax.axhline(1.0, color='black', lw=2.0, dashes=(25, 18), zorder=6)
    ax.tick_params(which='both', direction='in', top=True, right=True, bottom=True, left=True,
                   width=2.2, colors='black')
    ax.tick_params(which='major', length=10.5)
    ax.tick_params(which='minor', length=5)
    ax.tick_params(axis='y', pad=15, labelsize=22.5)
    ax.tick_params(axis='x', pad=11, labelsize=22.5)
    for s in ax.spines.values():
        s.set_linewidth(2.3)
        s.set_color('black')
        s.set_visible(True)
    ax.xaxis.set_major_locator(MultipleLocator(100))
    ax.xaxis.set_minor_locator(MultipleLocator(20))
    ax.set_xlabel('')
    ax.set_ylabel('Normalized flux', fontsize=21, fontweight='bold', family='Liberation Sans')
    ax.yaxis.set_label_coords(-0.036, 0.5)
    ax.grid(False)

ax1.set_xlim(*top_xlim)
ax1.set_ylim(*top_ylim)
ax1.set_yticks(top_yticks)
ax1.set_yticklabels(top_ylabels)
ax1.yaxis.set_minor_locator(MultipleLocator(0.1))

ax2.set_xlim(*bot_xlim)
ax2.set_ylim(*bot_ylim)
ax2.set_yticks(bot_yticks)
ax2.set_yticklabels(bot_ylabels)
ax2.yaxis.set_minor_locator(MultipleLocator(0.02))

for lab in ax1.get_xticklabels() + ax1.get_yticklabels() + ax2.get_yticklabels():
    lab.set_fontweight('bold')
for lab in ax2.get_xticklabels():
    lab.set_fontweight('semibold')

# Fe II bracket
ax1.plot(fe_bracket[0], fe_bracket[1], color='black', lw=7.2, solid_joinstyle='miter',
         solid_capstyle='butt', zorder=7, clip_on=False)

for txt, x, y, which in labels:
    a = ax1 if which == 'top' else ax2
    a.text(x, y, txt, ha='center', va='baseline', fontsize=65, fontweight='bold',
           family='Liberation Sans', color='black', zorder=8, clip_on=False)

fig.text(1003 / W, 1 - 1336 / H, 'Rest wavelength (Å)', ha='center', va='center',
         fontsize=19.5, fontweight='bold', family='DejaVu Serif')

# cut-off slide labels
fig.text(124 / W, 1 - 170 / H, 'Feb.', ha='right', va='baseline', fontsize=68,
         color='#1d4cfb', family='Liberation Sans')
fig.text(106 / W, 1 - 574 / H, 'April', ha='right', va='baseline', fontsize=68,
         color='#ff3a10', family='Liberation Sans')

fig.savefig('out.png', dpi=100)
